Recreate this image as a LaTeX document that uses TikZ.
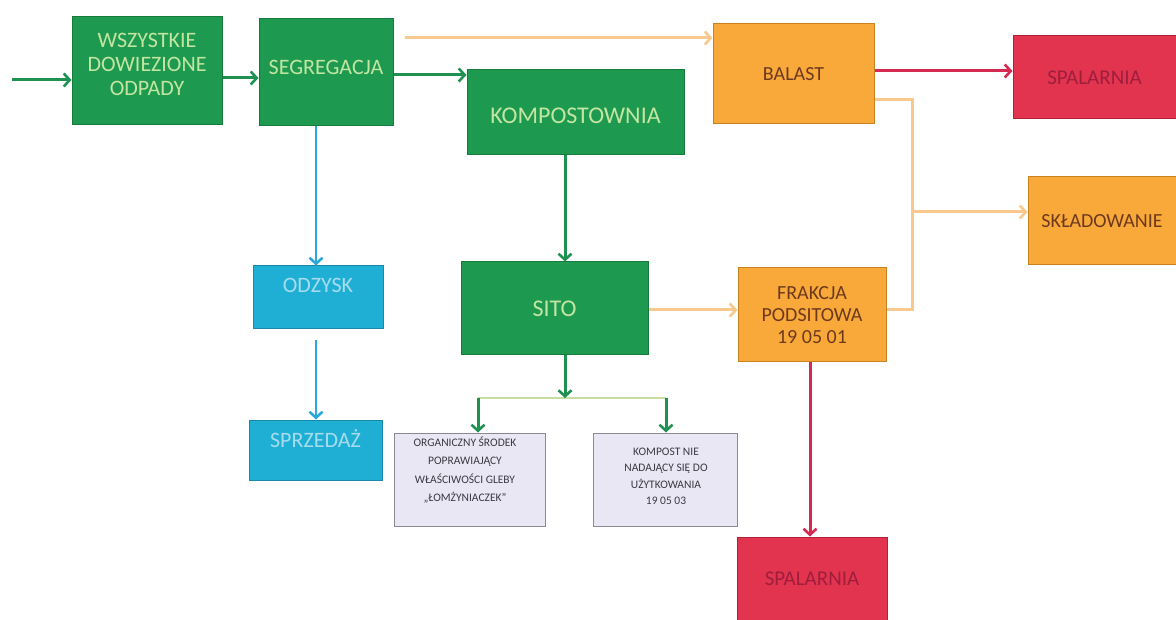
\documentclass[tikz,border=0pt]{standalone}
\usepackage{fontspec}
\setmainfont{Carlito}
\usetikzlibrary{arrows.meta}
\definecolor{dgreen}{HTML}{1E9A50}
\definecolor{dgreenb}{HTML}{157A3C}
\definecolor{gtext}{HTML}{C2E6A2}
\definecolor{agreen}{HTML}{1F9150}
\definecolor{orng}{HTML}{F8A93A}
\definecolor{orngb}{HTML}{C98220}
\definecolor{otext}{HTML}{6E3A1E}
\definecolor{lorng}{HTML}{F9C88C}
\definecolor{rd}{HTML}{E2344F}
\definecolor{rdb}{HTML}{B0223A}
\definecolor{rtext}{HTML}{9E1E3C}
\definecolor{ard}{HTML}{D42A52}
\definecolor{bl}{HTML}{20AFD4}
\definecolor{blb}{HTML}{1889A8}
\definecolor{btext}{HTML}{A6DCEE}
\definecolor{abl}{HTML}{2AA8DA}
\definecolor{lav}{HTML}{E9E7F3}
\definecolor{lavb}{HTML}{8A8A96}
\definecolor{ltext}{HTML}{3A3A44}
\definecolor{lgline}{HTML}{C8DDA0}
\tikzset{
  x=1pt, y=-1pt,
  base/.style={rectangle, align=center, line width=1pt, inner sep=2pt},
  gbox/.style={base, fill=dgreen, draw=dgreenb},
  gtxt/.style={align=center, text=gtext, font=\fontsize{22}{24}\selectfont},
  obox/.style={base, fill=orng, draw=orngb, text=otext, font=\fontsize{20}{22}\selectfont},
  rbox/.style={base, fill=rd, draw=rdb, text=rtext, font=\fontsize{21}{24}\selectfont},
  bbox/.style={base, fill=bl, draw=blb},
  btxt/.style={text=btext, font=\fontsize{22}{24}\selectfont},
  lbox/.style={base, fill=lav, draw=lavb},
  ltxt/.style={align=center, text=ltext, inner sep=0pt},
  tip/.style={-{Straight Barb[length=6pt,width=13pt,line width=2.6pt]}},
  garr/.style={tip, draw=agreen, line width=3pt},
  oarr/.style={draw=lorng, line width=3pt},
  rarr/.style={tip, draw=ard, line width=3pt},
  barr/.style={tip, draw=abl, line width=2.6pt},
}
\begin{document}
\begin{tikzpicture}
\useasboundingbox (0,0) rectangle (1176,620);
% boxes
\node[gbox, minimum width=150, minimum height=108] (all) at (147,71) {};
\node[gtxt] (allT) at (147,64) {WSZYSTKIE\\DOWIEZIONE\\ODPADY};
\node[gbox, minimum width=134, minimum height=107] (seg) at (326,72.5) {};
\node[gtxt] (segT) at (326,67) {SEGREGACJA};
\node[gbox, minimum width=217, minimum height=85] (komp) at (575.5,112.5) {};
\node[gtxt, font=\fontsize{24}{26}\selectfont] (kompT) at (575.5,116) {KOMPOSTOWNIA};
\node[obox, minimum width=161, minimum height=100] (bal) at (793.5,74) {BALAST};
\node[rbox, minimum width=163, minimum height=83] (sp1) at (1094.5,77.5) {SPALARNIA};
\node[obox, minimum width=148, minimum height=88] (skl) at (1102,221) {SKŁADOWANIE};
\node[bbox, minimum width=130, minimum height=63] (odz) at (318,297.5) {};
\node[btxt] (odzT) at (318,285) {ODZYSK};
\node[bbox, minimum width=133, minimum height=60] (spr) at (315.5,450) {};
\node[btxt] (sprT) at (315.5,439) {SPRZEDAŻ};
\node[gbox, minimum width=187, minimum height=93] (sito) at (554.5,308.5) {};
\node[gtxt, font=\fontsize{24}{26}\selectfont] (sitoT) at (554.5,309) {SITO};
\node[obox, minimum width=148, minimum height=94] (frak) at (812,315) {FRAKCJA\\PODSITOWA\\19 05 01};
\node[rbox, minimum width=150, minimum height=83] (sp2) at (812,578.5) {SPALARNIA};
\node[lbox, minimum width=151, minimum height=93] (org) at (469.5,479.5) {};
\node[ltxt, font=\fontsize{11.5}{18.5}\selectfont] (orgT) at (465,470) {ORGANICZNY ŚRODEK\\POPRAWIAJĄCY\\WŁAŚCIWOŚCI GLEBY\\„ŁOMŻYNIACZEK”};
\node[lbox, minimum width=144, minimum height=93] (kn) at (665,479.5) {};
\node[ltxt, font=\fontsize{11.5}{16.5}\selectfont] (knT) at (666,476.5) {KOMPOST NIE\\NADAJĄCY SIĘ DO\\UŻYTKOWANIA\\19 05 03};
% coordinates
\coordinate (in) at (12,80);
\coordinate (o1) at (405,38);
\coordinate (c1) at (912,100);
\coordinate (c2) at (912,310);
\coordinate (c3) at (912,212);
\coordinate (jm) at (565,398);
\coordinate (jl) at (478,398);
\coordinate (jr) at (666,398);
% connectors
\draw[garr] (in) -- (all.west |- in);
\draw[garr] (all.east |- 0,78) -- (seg.west |- 0,78);
\draw[garr] (seg.east |- 0,75) -- (komp.west |- 0,75);
\draw[oarr, tip] (o1) -- (bal.west |- o1);
\draw[rarr] (bal.east |- 0,71) -- (sp1.west |- 0,71);
\draw[oarr] (bal.east |- c1) -- (c1) -- (c2) -- (frak.east |- c2);
\draw[oarr, tip] (c3) -- (skl.west |- c3);
\draw[barr] (seg.south -| 316,0) -- (odz.north -| 316,0);
\draw[barr] (316,340) -- (spr.north -| 316,0);
\draw[garr] (komp.south -| jm) -- (sito.north -| jm);
\draw[oarr, tip] (sito.east |- 0,310) -- (frak.west |- 0,310);
\draw[rarr] (frak.south -| 810,0) -- (sp2.north -| 810,0);
\draw[lgline, line width=2.5pt] (jl) -- (jr);
\draw[garr] (sito.south -| jm) -- (jm);
\draw[garr] (jl) -- (org.north -| jl);
\draw[garr] (jr) -- (kn.north -| jr);
\end{tikzpicture}
\end{document}
